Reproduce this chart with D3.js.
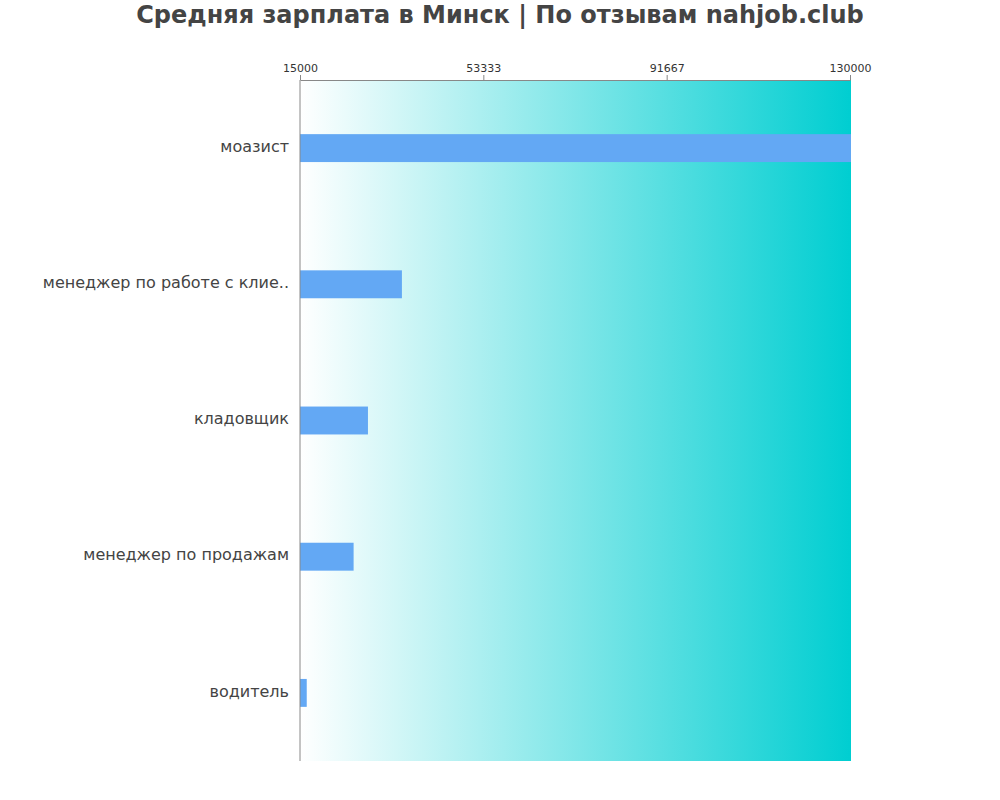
<!DOCTYPE html>
<html>
<head>
<meta charset="utf-8">
<script src="https://cdn.jsdelivr.net/npm/d3@7"></script>
<style>
  body { margin: 0; background: #fff; }
  svg { font-family: "DejaVu Sans", sans-serif; }
</style>
</head>
<body>
<div id="chart"></div>
<script>
/**
 * CONSTANTS AND GLOBALS
 * */
const width = 1000,
  height = 800,
  margin = { top: 80, bottom: 39, left: 300, right: 150 };

// data
const jobs = ["моазист", "менеджер по работе с клие..", "кладовщик", "менеджер по продажам", "водитель"];
const salaries = [130000, 36100, 29000, 26000, 16200];
const tickValues = [15000, 53333, 91667, 130000];

const svg = d3.select("#chart")
  .append("svg")
  .attr("width", width)
  .attr("height", height);

/**********/
/* SCALES */
/**********/
const xScale = d3.scaleLinear()
  .domain([15000, 130000])
  .range([margin.left, width - margin.right]);

const yScale = d3.scaleBand()
  .domain(jobs)
  .range([margin.top, height - margin.bottom]);

// background gradient
const grad = svg.append("defs").append("linearGradient")
  .attr("id", "bg")
  .attr("x1", "0%").attr("x2", "100%")
  .attr("y1", "0%").attr("y2", "0%");
grad.append("stop").attr("offset", "0%").attr("stop-color", "#ffffff");
grad.append("stop").attr("offset", "100%").attr("stop-color", "#00ced1");

svg.append("rect")
  .attr("x", xScale.range()[0])
  .attr("y", margin.top)
  .attr("width", xScale.range()[1] - xScale.range()[0] + 1)
  .attr("height", height - margin.bottom - margin.top)
  .attr("fill", "url(#bg)");

// title
svg.append("text")
  .attr("x", width / 2)
  .attr("y", 23)
  .attr("text-anchor", "middle")
  .attr("font-size", 24)
  .attr("font-weight", "bold")
  .attr("fill", "#444")
  .text("Средняя зарплата в Минск | По отзывам nahjob.club");

// bars
const barH = yScale.bandwidth() * 0.205;
svg.selectAll("rect.bar")
  .data(jobs)
  .join("rect")
  .attr("class", "bar")
  .attr("x", xScale(15000))
  .attr("y", d => yScale(d) + yScale.bandwidth() / 2 - barH / 2)
  .attr("width", (d, i) => xScale(salaries[i]) - xScale(15000) + 1)
  .attr("height", barH)
  .attr("fill", "#63a8f4");

// category labels
svg.selectAll("text.cat")
  .data(jobs)
  .join("text")
  .attr("class", "cat")
  .attr("x", margin.left - 11)
  .attr("y", d => yScale(d) + yScale.bandwidth() / 2 - 2)
  .attr("dy", "0.35em")
  .attr("text-anchor", "end")
  .attr("font-size", 16)
  .attr("fill", "#444")
  .text(d => d);

// top axis
const xAxis = svg.append("g")
  .attr("transform", `translate(0,${margin.top})`)
  .call(d3.axisTop(xScale).tickValues(tickValues).tickFormat(d3.format("d")).tickSize(5).tickSizeOuter(0));
xAxis.select(".domain").attr("stroke", "#888");
xAxis.selectAll(".tick line").attr("stroke", "#888");
xAxis.selectAll(".tick text")
  .attr("font-family", "DejaVu Sans, sans-serif")
  .attr("font-size", 11)
  .attr("fill", "#333");

// left axis line
svg.append("line")
  .attr("x1", margin.left).attr("x2", margin.left)
  .attr("y1", margin.top).attr("y2", height - margin.bottom)
  .attr("stroke", "#888");
</script>
</body>
</html>
